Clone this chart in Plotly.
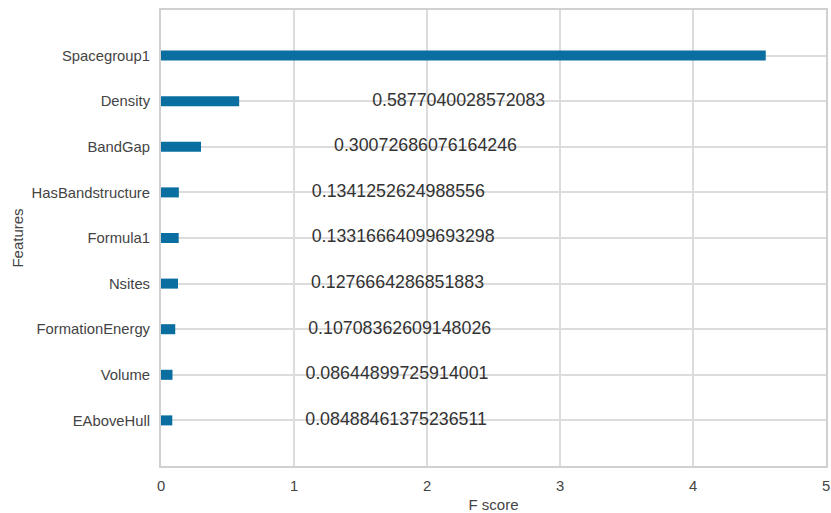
import plotly.graph_objects as go

features = ["EAboveHull", "Volume", "FormationEnergy", "Nsites", "Formula1",
            "HasBandstructure", "BandGap", "Density", "Spacegroup1"]
scores = [0.08488461375236511, 0.08644899725914001, 0.10708362609148026,
          0.1276664286851883, 0.13316664099693298, 0.1341252624988556,
          0.30072686076164246, 0.5877040028572083, 4.546923]
label_offset = 1.0
x_max = 5

positions = list(range(len(features)))
# labels placed beyond the axis limit fall outside the figure in the reference
labels = [str(s) if s + label_offset < x_max else "" for s in scores]

fig = go.Figure()
fig.add_trace(go.Bar(
    x=scores, y=positions, orientation="h", width=0.22,
    marker=dict(color="#0a6fa0", line=dict(width=0)),
    hoverinfo="skip",
))
fig.add_trace(go.Scatter(
    x=[s + label_offset for s in scores], y=positions,
    mode="text", text=labels,
    textposition="middle right",
    textfont=dict(family="Liberation Sans, Arial, sans-serif", size=17.8, color="#333333"),
    cliponaxis=True, hoverinfo="skip",
))

axis_common = dict(
    showline=True, mirror=True, linecolor="#d0d0d0", linewidth=2,
    showgrid=True, gridcolor="#dcdcdc", gridwidth=1.5,
    zeroline=False, ticks="", automargin=False,
    tickfont=dict(family="Liberation Sans, Arial, sans-serif", size=14.8, color="#444444"),
)

fig.update_layout(
    width=831, height=513,
    margin=dict(l=161, r=5, t=10, b=47),
    paper_bgcolor="white", plot_bgcolor="white",
    showlegend=False,
    font=dict(family="Liberation Sans, Arial, sans-serif", color="#444444"),
    xaxis=dict(range=[0, x_max], tickvals=[0, 1, 2, 3, 4, 5],
               title=dict(text="F score", standoff=9, font=dict(size=15, color="#444444")),
               ticklabelstandoff=5,
               **axis_common),
    yaxis=dict(range=[-1, 9], tickvals=positions, ticktext=features,
               title=dict(text="Features", standoff=4, font=dict(size=15, color="#444444")),
               ticklabelstandoff=6,
               **axis_common),
)

fig.write_html(
    "out.html",
    config={"displayModeBar": False},
    post_script="document.body.style.margin='0';document.body.style.overflow='hidden';",
)
